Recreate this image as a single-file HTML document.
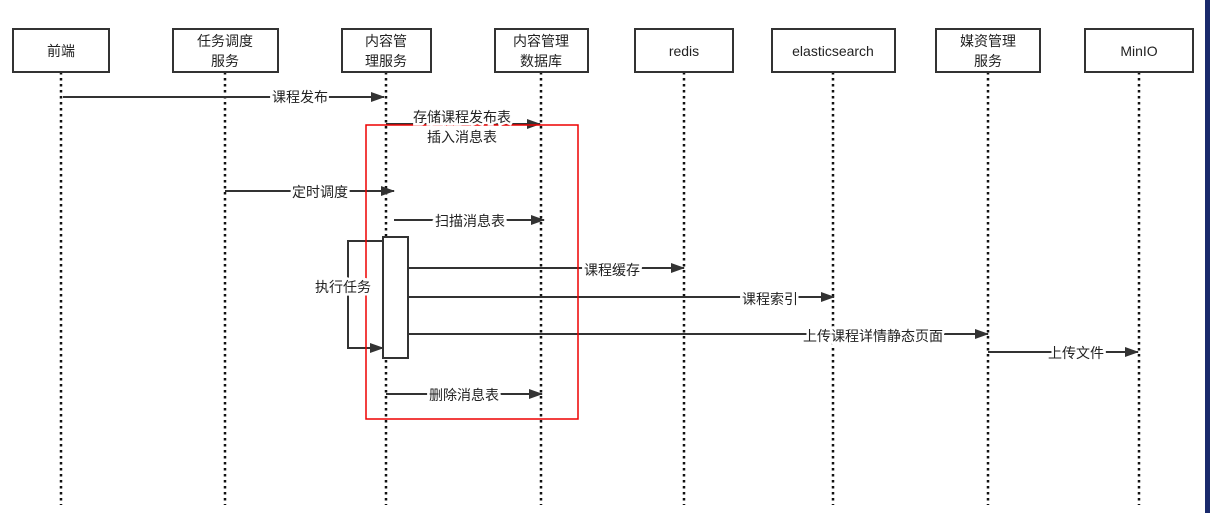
<!DOCTYPE html><html><head><meta charset="utf-8"><style>body{margin:0;background:#fff}svg{display:block;font-family:"Liberation Sans","Noto Sans CJK SC",sans-serif}</style></head><body>
<svg width="1210" height="513" viewBox="0 0 1210 513">
<defs><marker id="a" markerWidth="14" markerHeight="10" refX="13" refY="5" orient="auto" markerUnits="userSpaceOnUse"><path d="M0,0L14,5L0,10z" fill="#333"/></marker></defs>
<rect x="1205" y="0" width="5" height="513" fill="#1a2a6c"/>
<g stroke="#111" stroke-width="2.5" stroke-dasharray="2.5,3.5">
<line x1="61" y1="72" x2="61" y2="505"/><line x1="225" y1="72" x2="225" y2="505"/><line x1="386" y1="72" x2="386" y2="505"/><line x1="541" y1="72" x2="541" y2="505"/><line x1="684" y1="72" x2="684" y2="505"/><line x1="833" y1="72" x2="833" y2="505"/><line x1="988" y1="72" x2="988" y2="505"/><line x1="1139" y1="72" x2="1139" y2="505"/>
</g>
<g fill="#fff" stroke="#333" stroke-width="2">
<rect x="13" y="29" width="96" height="43"/><rect x="173" y="29" width="105" height="43"/><rect x="342" y="29" width="89" height="43"/><rect x="495" y="29" width="93" height="43"/><rect x="635" y="29" width="98" height="43"/><rect x="772" y="29" width="123" height="43"/><rect x="936" y="29" width="104" height="43"/><rect x="1085" y="29" width="108" height="43"/>
</g>
<g font-size="14" fill="#222" text-anchor="middle">
<text x="61" y="56">前端</text><text x="225" y="46">任务调度</text><text x="225" y="66">服务</text><text x="386" y="46">内容管</text><text x="386" y="66">理服务</text><text x="541" y="46">内容管理</text><text x="541" y="66">数据库</text><text x="684" y="56">redis</text><text x="833" y="56">elasticsearch</text><text x="988" y="46">媒资管理</text><text x="988" y="66">服务</text><text x="1139" y="56">MinIO</text>
</g>
<g stroke="#333" stroke-width="2" fill="none" marker-end="url(#a)">
<line x1="63" y1="97" x2="384" y2="97"/><line x1="386" y1="124" x2="540" y2="124"/><line x1="225" y1="191" x2="394" y2="191"/><line x1="394" y1="220" x2="544" y2="220"/><line x1="408" y1="268" x2="684" y2="268"/><line x1="408" y1="297" x2="834" y2="297"/><line x1="408" y1="334" x2="988" y2="334"/><line x1="988" y1="352" x2="1138" y2="352"/><line x1="386" y1="394" x2="542" y2="394"/>
<path d="M383,241H348V348H383"/>
</g>
<rect x="383" y="237" width="25" height="121" fill="#fff" stroke="#333" stroke-width="2"/>
<rect x="366" y="125" width="212" height="294" fill="none" stroke="#e00" stroke-width="1.5"/>
<g font-size="14" fill="#222" text-anchor="middle" stroke="#fff" stroke-width="5" paint-order="stroke">
<text x="300" y="102">课程发布</text><text x="462" y="122">存储课程发布表</text><text x="462" y="142">插入消息表</text><text x="320" y="197">定时调度</text><text x="470" y="226">扫描消息表</text><text x="612" y="275">课程缓存</text><text x="770" y="304">课程索引</text><text x="873" y="341">上传课程详情静态页面</text><text x="1076" y="358">上传文件</text><text x="464" y="400">删除消息表</text><text x="343" y="292">执行任务</text>
</g>
</svg></body></html>
